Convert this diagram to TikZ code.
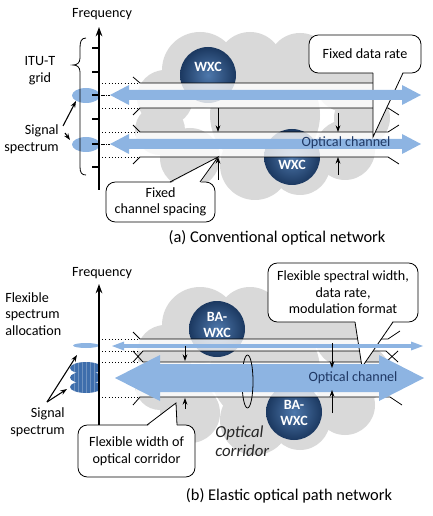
\documentclass[tikz,border=0pt]{standalone}
\usepackage{fontspec}
\setmainfont{Carlito}
\usetikzlibrary{arrows.meta}

\definecolor{cloudgray}{RGB}{217,217,217}
\definecolor{chanblue}{RGB}{141,180,226}
\definecolor{stackblue}{RGB}{62,110,172}
\definecolor{wxcin}{RGB}{78,120,172}
\definecolor{wxcout}{RGB}{27,56,96}
\definecolor{chantext}{RGB}{31,56,100}

% wide double arrow: y, left tip, right tip, shaft half, head half, head length
\newcommand{\chanarrow}[6]{%
  \fill[chanblue] (#2,#1) -- ({#2+#6},{#1-#5}) -- ({#2+#6},{#1-#4})
    -- ({#3-#6},{#1-#4}) -- ({#3-#6},{#1-#5}) -- (#3,#1)
    -- ({#3-#6},{#1+#5}) -- ({#3-#6},{#1+#4}) -- ({#2+#6},{#1+#4})
    -- ({#2+#6},{#1+#5}) -- cycle;}

% the grey network cloud
\newcommand{\netcloud}{%
  \foreach \cx/\cy/\r in {200/70/38, 250/65/33, 300/65/32, 345/82/30,
      362/118/28, 345/150/30, 300/165/30, 255/165/35, 190/158/30,
      160/130/25, 165/98/28, 265/115/55}
    \fill[cloudgray] (\cx,\cy) circle (\r);}

\tikzset{
  txt/.style={font=\fontsize{10.6}{12.6}\selectfont, inner sep=0pt, align=center},
  ttl/.style={font=\fontsize{12.3}{14}\selectfont, inner sep=0pt},
  wxctxt/.style={font=\fontsize{10.6}{12}\selectfont\bfseries, text=white, inner sep=0pt, align=center},
  wxcball/.style={inner color=wxcin, outer color=wxcout},
  band/.style={fill=white, opacity=.8},
  chan/.style={line width=.6pt},
  tick/.style={line width=1.1pt},
  axis/.style={line width=1.1pt, -{Stealth[length=7pt,width=5pt]}},
  gap/.style={line width=.6pt, -{Stealth[length=5pt,width=3.6pt]}},
  pointer/.style={line width=.8pt, -{Stealth[length=5pt,width=3.6pt]}},
  callout/.style={draw, fill=white, line width=.6pt, rounded corners=7pt, inner sep=0pt,
    font=\fontsize{10.6}{12.4}\selectfont, align=center},
}

\begin{document}
\begin{tikzpicture}[x=0.75pt,y=-0.75pt]
\useasboundingbox (0,0) rectangle (432,516);

% (a) conventional optical network
\netcloud
\shade[wxcball] (208,75) circle (28);
\node[wxctxt] (wxcA) at (208,67) {WXC};
\shade[wxcball] (292,157) circle (28);
\node[wxctxt] (wxcB) at (292,165) {WXC};
\fill[band] (136,83) rectangle (392,108);
\fill[band] (136,132) rectangle (392,157);
\draw[chan] (133,77) -- (140,83) -- (388,83) -- (399,76);
\draw[chan] (133,115) -- (140,108) -- (388,108) -- (399,115);
\draw[chan] (133,125) -- (140,132) -- (388,132) -- (399,125);
\draw[chan] (133,164) -- (140,157) -- (388,157) -- (399,164);
\foreach \y in {83,108,132,157}
  \draw[dotted] (99,\y) -- (140,\y);

\fill[chanblue] (86,95.5) ellipse (14 and 7.5);
\fill[chanblue] (86,144.5) ellipse (14 and 7.5);
\foreach \y in {48,72,95,119,144,167}
  \draw[tick] (92,\y) -- (100,\y);
\draw[axis] (99,190) -- (99,27);
\node[txt] (freqA) at (102,14) {Frequency};

\draw[chan] (86,38) .. controls (81,38) and (80,42) .. (80,48) -- (80,58)
  .. controls (80,63) and (77,65) .. (73,65) .. controls (77,65) and (80,67) .. (80,72)
  -- (80,167) .. controls (80,173) and (82,175) .. (86,175);
\node[txt] (gridA) at (40,71) {ITU-T\\grid};
\node[txt, align=right, anchor=east] (sigA) at (59,139.5) {Signal\\spectrum};
\coordinate (sigAtail1) at (63,126);
\coordinate (sigAtail2) at (65,133);
\draw[pointer] (sigAtail1) -- (76,101);
\draw[pointer] (sigAtail2) -- (70,140);

\node[callout, minimum width=84pt, minimum height=28.5pt] (rateA) at (365,54) {Fixed data rate};
\coordinate (rateTip) at (373,137);
\fill[white] (373,71.5) -- (rateTip) -- (403,71.5) -- cycle;
\draw[chan] (373,73) -- (rateTip) -- (403,73);
\node[callout, minimum width=81.75pt, minimum height=30pt] (spaceA) at (160.5,202) {Fixed\\channel spacing};
\coordinate (spaceTip) at (218,157);
\fill[white] (170,183.5) -- (spaceTip) -- (200,183.5) -- cycle;
\draw[chan] (170,182) -- (spaceTip) -- (200,182);

\chanarrow{95}{110}{421}{5}{10}{19}
\chanarrow{144}{110}{421}{5}{10}{19}
\draw[densely dash dot] (101,95) -- (110,95);
\draw[densely dash dot] (101,144) -- (110,144);
\node[txt, text=chantext] (chanA) at (346,143) {Optical channel};

\draw[gap] (218,108) -- (218,132);
\draw[gap] (218,180) -- (218,157);
\draw[gap] (338,113) -- (338,132);
\draw[gap] (338,175) -- (338,157);
\node[ttl] (titleA) at (277,238) {(a) Conventional optical network};

% (b) elastic optical path network
\begin{scope}[shift={(0,255)}]
  \netcloud
\end{scope}
\shade[wxcball] (217,329) circle (28);
\node[wxctxt] (bawxcA) at (217,325) {BA-\\WXC};
\shade[wxcball] (294,412) circle (28);
\node[wxctxt] (bawxcB) at (294,413) {BA-\\WXC};
\fill[band] (136,339) rectangle (392,351);
\fill[band] (136,362) rectangle (392,397);
\draw[chan] (133,332) -- (140,339) -- (388,339) -- (400,331);
\draw[chan] (133,362) -- (143,351) -- (386,351) -- (398,362);
\draw[chan] (133,351) -- (143,362) -- (386,362) -- (398,351);
\draw[chan] (133,405) -- (140,397) -- (390,397) -- (402,405);
\foreach \y in {339,351,362,397}
  \draw[dotted] (99,\y) -- (140,\y);

\fill[chanblue] (86,345.5) ellipse (13 and 2.5);
\begin{scope}
  \clip (60,355) rectangle (99,400);
  \foreach \y in {368,377.5,387}
    \fill[stackblue] (86,\y) ellipse (16 and 6);
  \foreach \x in {74,78,...,98}
    \draw[white, opacity=.25, line width=.3pt] (\x,360) -- (\x,395);
\end{scope}
\draw[axis] (99,425) -- (99,284);
\node[txt] (freqB) at (102,273) {Frequency};

\node[txt, align=left, anchor=west] (allocB) at (5,314) {Flexible\\spectrum\\allocation};
\node[txt, align=right, anchor=east] (sigB) at (65,422) {Signal\\spectrum};
\coordinate (sigBtail) at (47,402);
\draw[pointer] (sigBtail) -- (77,355);
\draw[pointer] (sigBtail) -- (67,389);

\node[callout, minimum width=112.5pt, minimum height=44.25pt] (flexB) at (343,292.5) {Flexible spectral width,\\data rate,\\modulation format};
\coordinate (flexTip) at (362,367);
\fill[white] (355,320.5) -- (flexTip) -- (393,320.5) -- cycle;
\draw[chan] (355,322) -- (flexTip) -- (393,322);
\node[callout, minimum width=87.75pt, minimum height=39pt] (widthB) at (136.5,451) {Flexible width of\\optical corridor};
\coordinate (widthTip) at (176,403);
\fill[white] (147,426.5) -- (widthTip) -- (177,426.5) -- cycle;
\draw[chan] (147,425) -- (widthTip) -- (177,425);

\draw[chan] (247.5,355) arc[start angle=270, end angle=90, x radius=5.5, y radius=26.5];
\chanarrow{346}{112}{423}{1.8}{4.5}{12}
\chanarrow{378}{115}{424}{14}{23}{45}
\draw[chan] (247.5,355) arc[start angle=-90, end angle=90, x radius=5.5, y radius=26.5];
\node[txt, text=chantext] (chanB) at (353,378) {Optical channel};
\node[txt, font=\fontsize{12.6}{14.3}\selectfont\itshape, align=left, anchor=west, text=black!85] (corrB) at (215,441.5) {Optical\\corridor};

\draw[gap] (185,346) -- (185,361);
\draw[gap] (185,409) -- (185,398);
\draw[gap] (332,343) -- (332,368);
\draw[gap] (332,413) -- (332,390);
\node[ttl] (titleB) at (289,496) {(b) Elastic optical path network};
\end{tikzpicture}
\end{document}
